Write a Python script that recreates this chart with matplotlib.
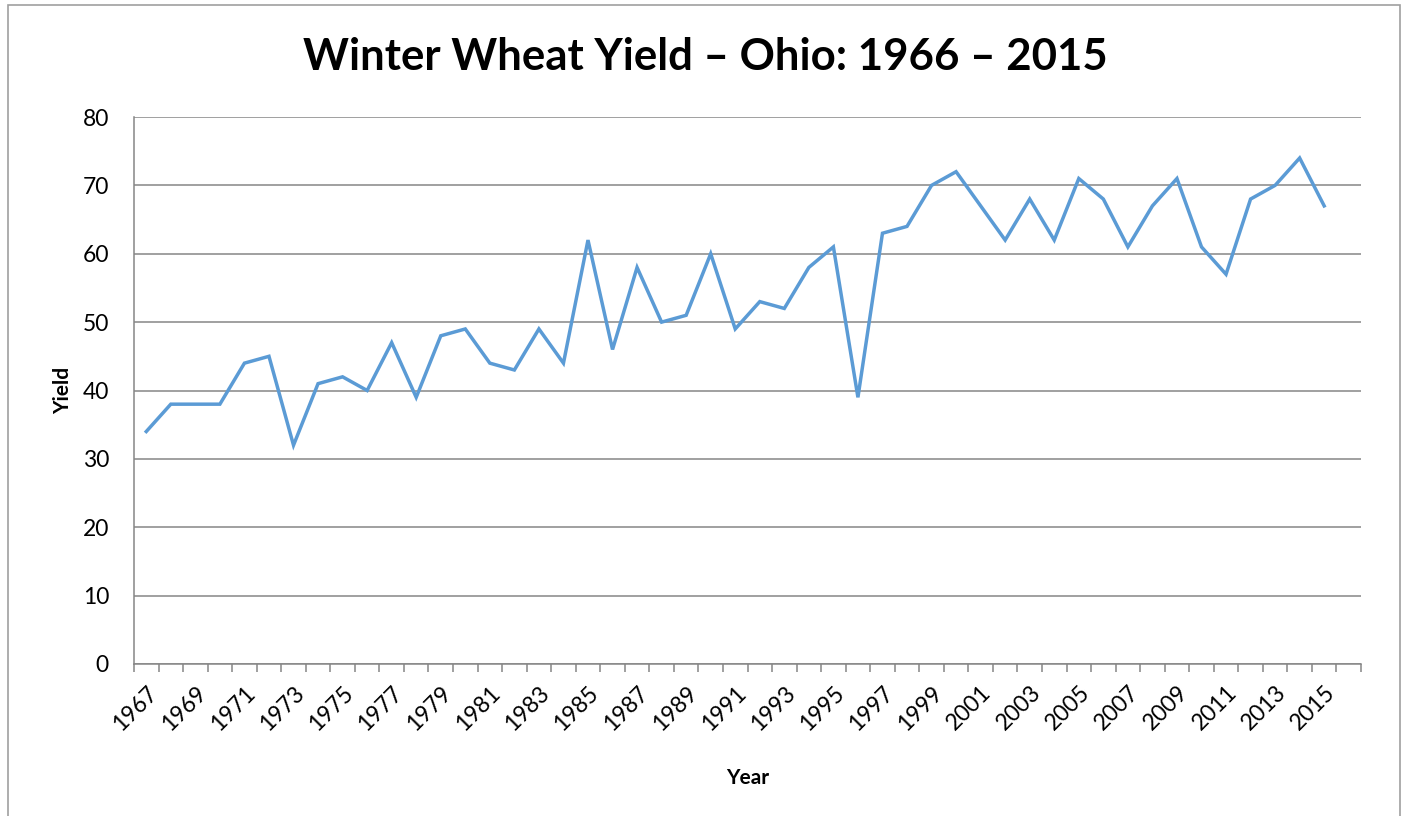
import numpy as np
import matplotlib
matplotlib.use("Agg")
from matplotlib import pyplot as plt
from matplotlib.patches import Rectangle

plt.rcParams['font.family'] = ['Lato', 'DejaVu Sans']

years = list(range(1967, 2016))
yields = [34, 38, 38, 38, 44, 45, 32, 41, 42, 40,
          47, 39, 48, 49, 44, 43, 49, 44, 62, 46,
          58, 50, 51, 60, 49, 53, 52, 58, 61, 39,
          63, 64, 70, 72, 67, 62, 68, 62, 71, 68,
          61, 67, 71, 61, 57, 68, 70, 74, 67]
yticks = [0, 10, 20, 30, 40, 50, 60, 70, 80]
n_slots = 50  # category axis has one empty slot after 2015

W, H = 1406, 816
fig = plt.figure(figsize=(W / 100, H / 100), dpi=100)
ax = fig.add_axes([134 / W, 1 - 664 / H, (1361 - 134) / W, (664 - 117) / H])

grey = '#868686'
x = np.arange(len(years))
ax.plot(x, yields, color='#5B9BD5', lw=2.5, solid_joinstyle='miter', zorder=3)

ax.set_xlim(-0.5, n_slots - 0.5)
ax.set_ylim(0, 80)
ax.set_yticks(yticks)
ax.yaxis.grid(True, color=grey, lw=1.1)
ax.set_axisbelow(True)
ax.tick_params(axis='y', length=0, labelsize=16.5, pad=18)

# ticks at category boundaries, labels at every other category centre
ax.set_xticks(np.arange(n_slots + 1) - 0.5)
ax.set_xticklabels([])
ax.tick_params(axis='x', which='major', length=6, color=grey, width=1.1)
ax.set_xticks(x[::2], minor=True)
ax.set_xticklabels([str(y) for y in years[::2]], minor=True,
                   rotation=45, ha='right', va='top', rotation_mode='anchor')
ax.tick_params(axis='x', which='minor', length=0, labelsize=16.5, pad=13)

for s in ['top', 'right']:
    ax.spines[s].set_visible(False)
for s in ['left', 'bottom']:
    ax.spines[s].set_color(grey)
    ax.spines[s].set_linewidth(1.1)

ax.set_xlabel('Year', fontsize=15, fontweight='bold', labelpad=24)
ax.set_ylabel('Yield', fontsize=15, fontweight='bold', labelpad=7)

fig.text(705 / W, 1 - 57 / H, 'Winter Wheat Yield \u2013 Ohio: 1966 \u2013 2015',
         ha='center', va='center', fontsize=31.5, fontweight='bold')

fig.patches.append(Rectangle((8 / W, -0.05), (1400 - 8) / W, 1.05 - 5 / H,
                             transform=fig.transFigure, fill=False,
                             edgecolor='#A0A0A0', lw=1.2, clip_on=False))

fig.savefig('out.png', dpi=100, facecolor='white')
